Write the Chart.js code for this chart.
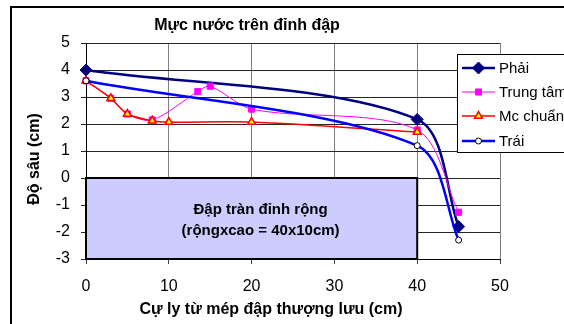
<!DOCTYPE html>
<html><head><meta charset="utf-8">
<script src="https://cdn.jsdelivr.net/npm/chart.js@4.4.1/dist/chart.umd.min.js"></script>
<style>html,body{margin:0;padding:0;background:#fff}canvas{display:block}</style>
</head><body>
<canvas id="c" width="564" height="324"></canvas>
<script>
const titleText = 'Mực nước trên đỉnh đập';
const xTitleText = 'Cự ly từ mép đập thượng lưu (cm)';
const yTitleText = 'Độ sâu (cm)';
const damLabel = ['Đập tràn đỉnh rộng', '(rộngxcao = 40x10cm)'];
const seriesNames = ['Phải', 'Trung tâm', 'Mc chuẩn', 'Trái'];

const xPhai = [0, 40, 45];
const yPhai = [4.0, 2.17, -1.8];
const xTrungTam = [0, 3, 5, 8, 13.5, 15, 20, 40, 45];
const yTrungTam = [3.6, 2.95, 2.37, 2.15, 3.2, 3.4, 2.55, 1.78, -1.27];
const xMcChuan = [0, 3, 5, 8, 10, 20, 40];
const yMcChuan = [3.6, 2.95, 2.37, 2.12, 2.07, 2.07, 1.7];
const xTrai = [0, 40, 45];
const yTrai = [3.6, 1.2, -2.3];

const damX = [0, 40];
const damY = [-3, 0];
const xRange = [0, 50, 10];
const yRange = [-3, 5, 1];

const FONT = "'Liberation Sans', Arial, sans-serif";
const pts = (xs, ys) => xs.map((x, i) => ({x, y: ys[i]}));

const styles = [
  {color: '#000080', width: 2.5, pointStyle: 'rectRot', radius: 6, bg: '#000080', border: '#000080', bw: 1, order: 4},
  {color: '#FF00FF', width: 1, pointStyle: 'rect', radius: 4.3, bg: '#FF00FF', border: '#FF00FF', bw: 1, order: 3},
  {color: '#FF0000', width: 1.5, pointStyle: 'triangle', radius: 4.5, bg: '#FFFF00', border: '#FF0000', bw: 1.5, order: 2},
  {color: '#0000FF', width: 2.5, pointStyle: 'circle', radius: 3, bg: '#FFFFFF', border: '#000000', bw: 1, order: 1}
];
const seriesData = [pts(xPhai, yPhai), pts(xTrungTam, yTrungTam), pts(xMcChuan, yMcChuan), pts(xTrai, yTrai)];

const datasets = seriesData.map((d, i) => {
  const s = styles[i];
  return {
    label: seriesNames[i], data: d, borderColor: s.color, borderWidth: s.width,
    backgroundColor: s.bg, pointStyle: s.pointStyle, pointRadius: s.radius,
    pointBackgroundColor: s.bg, pointBorderColor: s.border, pointBorderWidth: s.bw,
    tension: 0.3, fill: false, clip: false, order: s.order
  };
});

const decor = {
  id: 'decor',
  beforeDraw(chart) {
    const ctx = chart.ctx;
    ctx.save();
    ctx.strokeStyle = '#000';
    ctx.lineWidth = 2;
    ctx.strokeRect(11, 7, 700, 400);
    ctx.restore();
  },
  beforeDatasetsDraw(chart) {
    const {ctx, scales: {x, y}} = chart;
    const x0 = x.getPixelForValue(damX[0]), x1 = x.getPixelForValue(damX[1]);
    const y0 = y.getPixelForValue(damY[1]), y1 = y.getPixelForValue(damY[0]);
    ctx.save();
    ctx.fillStyle = '#CCCCFF';
    ctx.fillRect(x0, y0, x1 - x0, y1 - y0);
    ctx.strokeStyle = '#000';
    ctx.lineWidth = 2;
    ctx.strokeRect(x0, y0, x1 - x0, y1 - y0);
    ctx.fillStyle = '#000';
    ctx.font = 'bold 15px ' + FONT;
    ctx.textAlign = 'center';
    ctx.textBaseline = 'middle';
    const cx = (x0 + x1) / 2 + 9;
    ctx.fillText(damLabel[0], cx, 210);
    ctx.fillText(damLabel[1], cx, 231);
    ctx.restore();
  },
  afterDraw(chart) {
    const {ctx} = chart;
    ctx.save();
    ctx.fillStyle = '#000';
    ctx.textBaseline = 'middle';
    ctx.textAlign = 'center';
    ctx.font = 'bold 16px ' + FONT;
    ctx.fillText(titleText, 247, 26);
    ctx.fillText(xTitleText, 271, 310);
    ctx.save();
    ctx.translate(35, 159);
    ctx.rotate(-Math.PI / 2);
    ctx.fillText(yTitleText, 0, 0);
    ctx.restore();
    // legend
    const lx = 457, ly = 54, lw = 140, lh = 98;
    ctx.fillStyle = '#fff';
    ctx.fillRect(lx, ly, lw, lh);
    ctx.strokeStyle = '#000';
    ctx.lineWidth = 1;
    ctx.strokeRect(lx + 0.5, ly + 0.5, lw, lh);
    const rows = [68, 92, 116, 141];
    ctx.font = '15px ' + FONT;
    ctx.textAlign = 'left';
    seriesNames.forEach((name, i) => {
      const s = styles[i];
      const yy = rows[i];
      ctx.strokeStyle = s.color;
      ctx.lineWidth = s.width;
      ctx.beginPath();
      ctx.moveTo(462, yy);
      ctx.lineTo(495, yy);
      ctx.stroke();
      ctx.fillStyle = s.bg;
      ctx.strokeStyle = s.border;
      ctx.lineWidth = s.bw;
      Chart.helpers.drawPoint(ctx, {pointStyle: s.pointStyle, radius: s.radius, rotation: 0, borderWidth: s.bw}, 478.5, yy);
      ctx.fillStyle = '#000';
      ctx.fillText(name, 499, yy + 1);
    });
    ctx.restore();
  }
};

new Chart(document.getElementById('c'), {
  type: 'line',
  data: {datasets},
  options: {
    responsive: false,
    animation: false,
    layout: {padding: {top: 43, right: 64, left: 0, bottom: 0}},
    plugins: {legend: {display: false}, title: {display: false}, tooltip: {enabled: false}},
    scales: {
      x: {
        type: 'linear', min: xRange[0], max: xRange[1],
        ticks: {stepSize: xRange[2], padding: 13, color: '#000', font: {family: FONT, size: 16}},
        grid: {color: '#808080', lineWidth: 1, tickLength: 5, tickColor: '#404040'},
        border: {color: '#000', width: 1},
        afterFit(s) { s.height = 65; }
      },
      y: {
        type: 'linear', min: yRange[0], max: yRange[1],
        ticks: {stepSize: yRange[2], padding: 11, color: '#000', font: {family: FONT, size: 16}},
        grid: {color: '#262626', lineWidth: 1, tickLength: 5},
        border: {color: '#000', width: 1},
        afterFit(s) { s.width = 86; }
      }
    }
  },
  plugins: [decor]
});
</script>
</body></html>
